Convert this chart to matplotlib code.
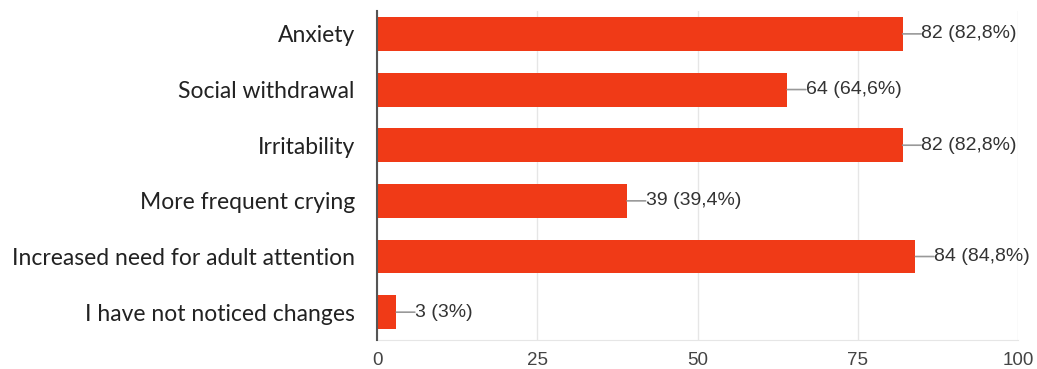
import matplotlib
matplotlib.use("Agg")
import matplotlib.pyplot as plt

categories = [
    "Anxiety",
    "Social withdrawal",
    "Irritability",
    "More frequent crying",
    "Increased need for adult attention",
    "I have not noticed changes",
]
counts = [82, 64, 82, 39, 84, 3]
percent_labels = ["82,8%", "64,6%", "82,8%", "39,4%", "84,8%", "3%"]
x_ticks = [0, 25, 50, 75, 100]

bar_color = "#F03A17"

fig = plt.figure(figsize=(10.37, 3.69), dpi=100)
ax = fig.add_axes([0.3636, 0.0786, 0.6181, 0.8914])

y = list(range(len(categories)))
ax.barh(y, counts, height=0.61, color=bar_color, zorder=3)
ax.set_ylim(len(categories) - 0.5, -0.41)
ax.set_xlim(0, 100)

# value annotations with a short leader line
for yi, c, p in zip(y, counts, percent_labels):
    ax.annotate(f"{c} ({p})", xy=(c, yi), xytext=(13.5, 0), textcoords="offset points",
                va="center", ha="left", fontsize=14, color="#333333",
                family="Liberation Sans", zorder=4)
    ax.annotate("", xy=(c, yi), xytext=(c + 2.9, yi),
                arrowprops=dict(arrowstyle="-", color="#999999", lw=1.2,
                                shrinkA=0, shrinkB=0), zorder=4)

ax.set_xticks(x_ticks)
ax.set_xticklabels([str(t) for t in x_ticks], family="Liberation Sans",
                   fontsize=13.5, color="#444444")
ax.set_yticks(y)
ax.set_yticklabels(categories, family="Lato", fontsize=16.5, color="#222222")
ax.tick_params(axis="both", length=0)
ax.tick_params(axis="y", pad=16)
ax.tick_params(axis="x", pad=9)

ax.grid(axis="x", color="#e6e6e6", lw=1, zorder=0)
for s in ["top", "right"]:
    ax.spines[s].set_visible(False)
ax.spines["bottom"].set_color("#e6e6e6")
ax.spines["left"].set_color("#555555")
ax.spines["left"].set_linewidth(1.5)
ax.spines["left"].set_zorder(5)

fig.savefig("out.png", dpi=100)
